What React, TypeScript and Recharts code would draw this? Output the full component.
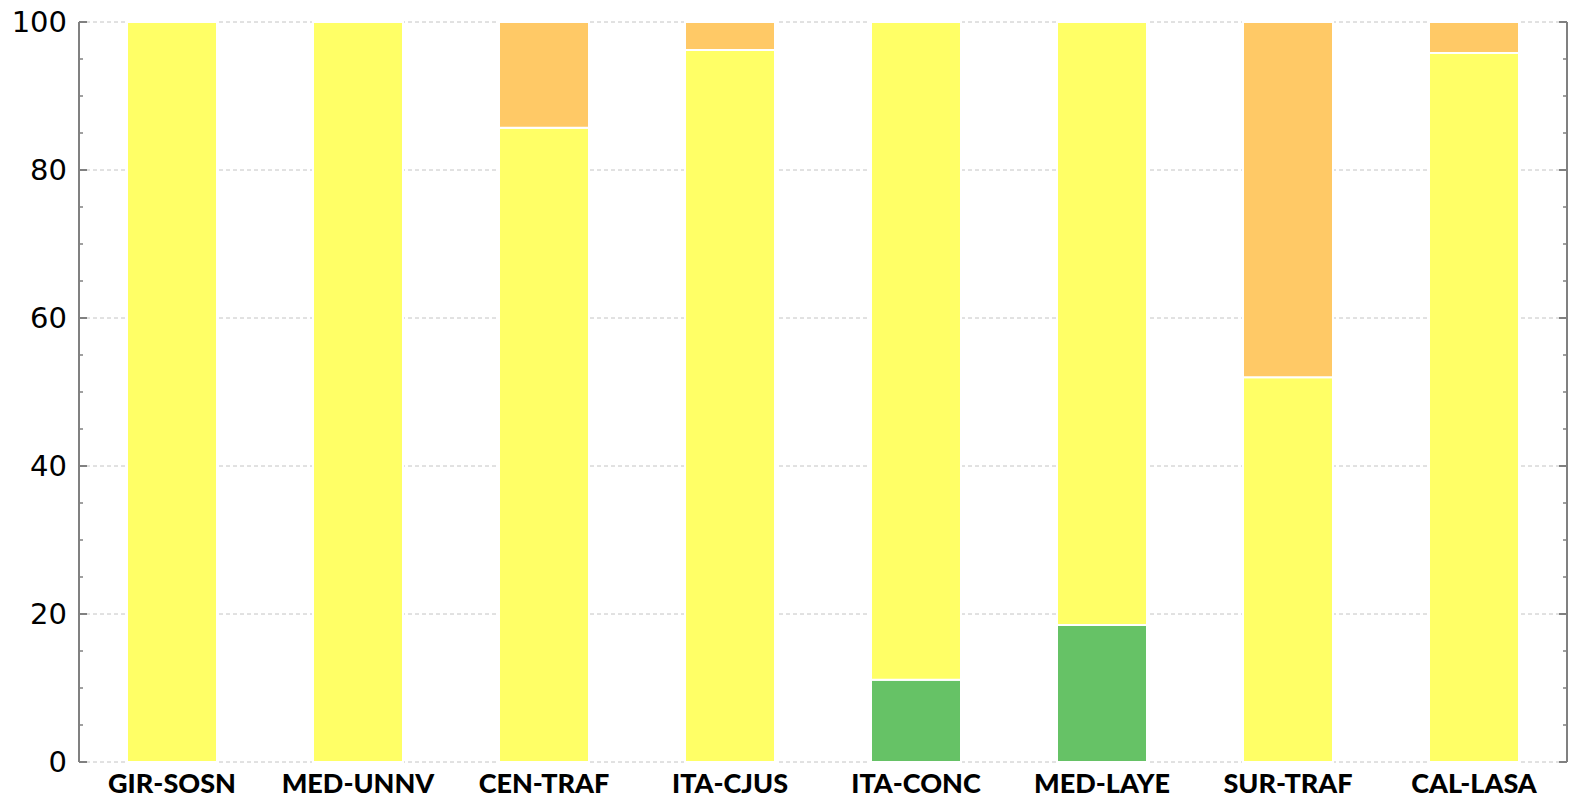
import { ComposedChart, Bar, Line, XAxis, YAxis, CartesianGrid } from 'recharts'

const sites = ['GIR-SOSN', 'MED-UNNV', 'CEN-TRAF', 'ITA-CJUS', 'ITA-CONC', 'MED-LAYE', 'SUR-TRAF', 'CAL-LASA']
const greenShare = [0, 0, 0, 0, 11.1, 18.5, 0, 0]
const yellowShare = [100, 100, 85.7, 96.2, 88.9, 81.5, 52.0, 95.8]
const orangeShare = [0, 0, 14.3, 3.8, 0, 0, 48.0, 4.2]
const majorTicks = [0, 20, 40, 60, 80, 100]
const allTicks = [0, 5, 10, 15, 20, 25, 30, 35, 40, 45, 50, 55, 60, 65, 70, 75, 80, 85, 90, 95, 100]

const data = sites.map((site, i) => ({
  site,
  green: greenShare[i],
  yellow: yellowShare[i],
  orange: orangeShare[i],
}))

const axisGrey = '#808080'

// inward tick marks: long on major values, short on minor ones
const InwardTick = ({ x, y, payload, dir }: any) => {
  const major = majorTicks.includes(payload.value)
  const len = major ? 8 : 4
  return (
    <g>
      <line x1={x} x2={x + dir * len} y1={y} y2={y} stroke={axisGrey} strokeWidth={major ? 2 : 1.5} />
    </g>
  )
}

export default function App() {
  return (
    <div style={{ position: 'absolute', left: 0, top: 0, background: '#fff' }}>
      <ComposedChart
        width={1575}
        height={798}
        data={data}
        margin={{ top: 22, right: 0, left: -1, bottom: 0 }}
        barSize={90}
      >
        <CartesianGrid
          yAxisId="main"
          vertical={false}
          stroke="#c4c4c4"
          strokeDasharray="4 3"
        />
        <XAxis
          dataKey="site"
          axisLine={false}
          tickLine={false}
          height={36}
          tickSize={0}
          tickMargin={12}
          tick={{ fill: '#000', fontSize: 27, fontWeight: 900, fontFamily: 'Lato, sans-serif' }}
        />
        <YAxis
          yAxisId="aTicks"
          type="number"
          domain={[0, 100]}
          ticks={allTicks}
          interval={0}
          width={1}
          axisLine={{ stroke: axisGrey, strokeWidth: 2 }}
          tickLine={false}
          tickSize={0}
          tickMargin={0}
          tick={<InwardTick dir={1} />}
        />
        <YAxis
          yAxisId="main"
          type="number"
          domain={[0, 100]}
          ticks={majorTicks}
          interval={0}
          width={79}
          axisLine={false}
          tickLine={false}
          tickSize={0}
          tickMargin={11}
          tick={{ fill: '#000', fontSize: 29, fontFamily: 'DejaVu Sans, sans-serif' }}
        />
        <YAxis
          yAxisId="right"
          orientation="right"
          type="number"
          domain={[0, 100]}
          ticks={allTicks}
          interval={0}
          width={8}
          axisLine={{ stroke: axisGrey, strokeWidth: 2 }}
          tickLine={false}
          tickSize={0}
          tickMargin={0}
          tick={<InwardTick dir={-1} />}
        />
        <Bar yAxisId="main" dataKey="green" stackId="s" fill="#66c266" stroke="#ffffff" strokeWidth={2} isAnimationActive={false} />
        <Bar yAxisId="main" dataKey="yellow" stackId="s" fill="#ffff66" stroke="#ffffff" strokeWidth={2} isAnimationActive={false} />
        <Bar yAxisId="main" dataKey="orange" stackId="s" fill="#ffc966" stroke="#ffffff" strokeWidth={2} isAnimationActive={false} />
        {/* invisible series so the tick-only axes get a scale */}
        <Line yAxisId="aTicks" dataKey="yellow" stroke="none" dot={false} activeDot={false} legendType="none" isAnimationActive={false} />
        <Line yAxisId="right" dataKey="yellow" stroke="none" dot={false} activeDot={false} legendType="none" isAnimationActive={false} />
      </ComposedChart>
    </div>
  )
}
